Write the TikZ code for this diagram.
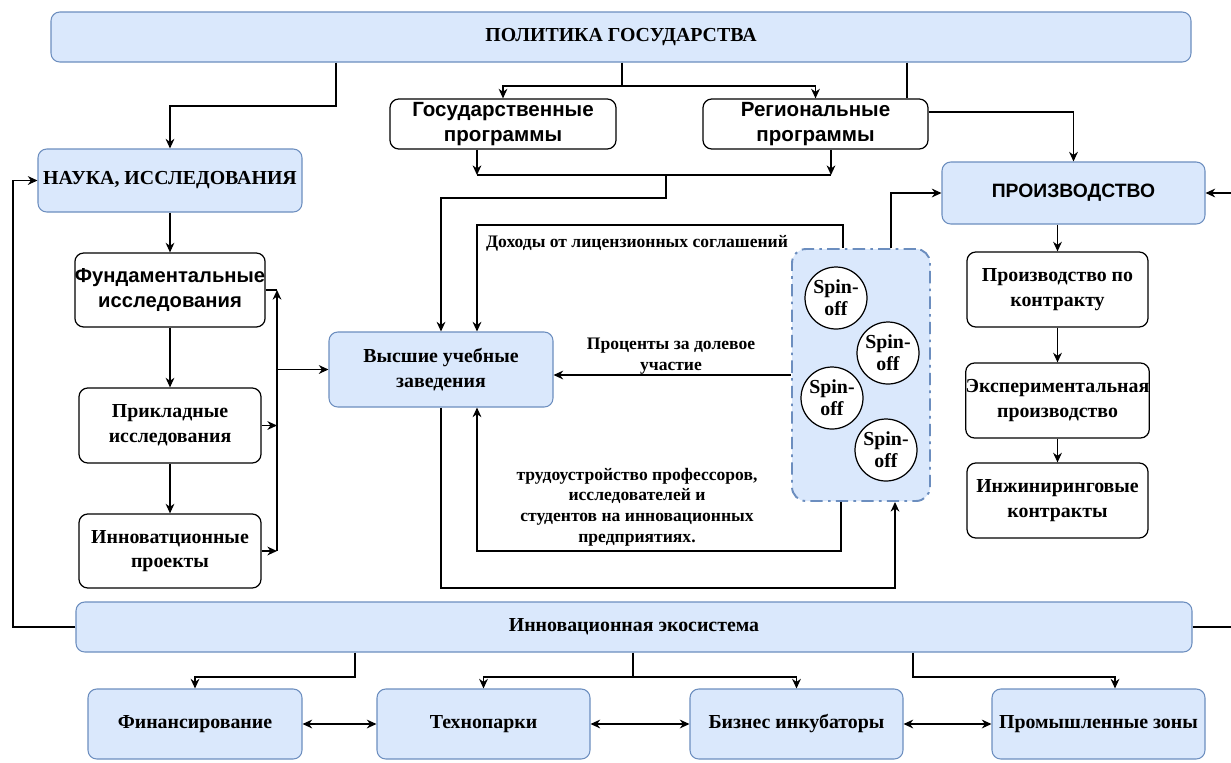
\documentclass[tikz,border=0pt]{standalone}
\usepackage{fontspec}
\setmainfont{Liberation Serif}
\newfontfamily\arialf{Liberation Sans}
\usetikzlibrary{arrows.meta,calc}
\definecolor{bfill}{HTML}{DAE8FC}
\definecolor{bdraw}{HTML}{6C8EBF}
\newcommand\mybox[7]{\node[#6, minimum width={(#4-#2)*0.02cm}, minimum height={(#5-#3)*0.02cm}] (#1) at ({(#2+#4)/2},{(#3+#5)/2}) {#7};}
\tikzset{
 base/.style={inner sep=0pt, align=center, font=\bfseries\fontsize{11.3}{14}\selectfont, text=black},
 bluebox/.style={base, draw=bdraw, fill=bfill, rounded corners=5pt, line width=0.6pt},
 whitebox/.style={base, draw=black, fill=white, rounded corners=5pt, line width=0.7pt},
 sansf/.style={font=\arialf\bfseries\fontsize{11.7}{14}\selectfont},
 conn/.style={line width=0.7pt},
 arr/.style={conn, -{Stealth[length=5.5pt,width=5pt]}},
 biarr/.style={conn, {Stealth[length=5.5pt,width=5pt]}-{Stealth[length=5.5pt,width=5pt]}},
 lbl/.style={align=center, inner sep=0pt, font=\bfseries\fontsize{10}{11.7}\selectfont},
 spinc/.style={circle, draw=black, fill=white, line width=0.7pt, minimum size=1.24cm, inner sep=0pt, align=center, font=\bfseries\fontsize{11.3}{12.4}\selectfont},
 cont/.style={draw=bdraw, fill=bfill, rounded corners=8pt, line width=1.1pt, dash pattern=on 7pt off 3pt on 1.5pt off 3pt}
}
\begin{document}
\begin{tikzpicture}[x=0.02cm,y=-0.02cm]
\useasboundingbox (0,0) rectangle (1231,762);
\clip (0,0) rectangle (1231,762);
\fill[white] (0,0) rectangle (1231,762);

% boxes
\mybox{pol}{51}{12}{1191}{62}{bluebox}{ПОЛИТИКА ГОСУДАРСТВА}
\mybox{gos}{390}{99}{616}{149}{whitebox,sansf}{Государственные\\программы}
\mybox{reg}{703}{99}{928}{149}{whitebox,sansf}{Региональные\\программы}
\mybox{nauka}{38}{149}{302}{212}{bluebox}{НАУКА, ИССЛЕДОВАНИЯ}
\mybox{fund}{79}{253}{261}{327}{whitebox,font=\arialf\bfseries\fontsize{11.5}{14}\selectfont}{Фундаментальные\\исследования}
\mybox{prikl}{79}{388}{261}{463}{whitebox}{Прикладные\\исследования}
\mybox{innov}{79}{514}{261}{588}{whitebox}{Инноватционные\\проекты}
\mybox{vuz}{329}{332}{553}{407}{bluebox}{Высшие учебные\\заведения}
\mybox{spin}{792}{249}{930}{501}{cont}{}
\node[spinc] (sp1) at (836,298) {Spin-\\off};
\node[spinc] (sp2) at (888,353) {Spin-\\off};
\node[spinc] (sp3) at (832,398) {Spin-\\off};
\node[spinc] (sp4) at (886,450) {Spin-\\off};
\mybox{proizv}{942}{162}{1205}{224}{bluebox,font=\arialf\bfseries\fontsize{11}{14}\selectfont}{ПРОИЗВОДСТВО}
\mybox{pk}{967}{252}{1148}{327}{whitebox}{Производство по\\контракту}
\mybox{exp}{967}{363}{1148}{438}{whitebox}{Экспериментальная\\производство}
\mybox{inzh}{967}{463}{1148}{538}{whitebox}{Инжиниринговые\\контракты}
\mybox{eco}{76}{602}{1192}{652}{bluebox}{Инновационная экосистема}
\mybox{fin}{88}{689}{302}{759}{bluebox}{Финансирование}
\mybox{tech}{377}{689}{590}{759}{bluebox}{Технопарки}
\mybox{biz}{690}{689}{903}{759}{bluebox}{Бизнес инкубаторы}
\mybox{prom}{992}{689}{1205}{759}{bluebox}{Промышленные зоны}

% top connectors
\coordinate (j1) at (336,106);
\draw[arr] (pol.south -| j1) -- (j1) -| (nauka.north);
\coordinate (j2) at (622,86);
\draw[arr] (pol.south -| j2) -- (j2) -| (gos.north);
\draw[arr] (j2) -| (reg.north);
\coordinate (j3) at (907,80);
\draw[conn] (pol.south -| j3) -- (reg.north -| j3);
\coordinate (j4) at (1074,112);
\draw[arr] (reg.east |- j4) -| (proizv.north);

\coordinate (b1) at (477,175);
\coordinate (b2) at (831,175);
\coordinate (b3) at (666,198);
\coordinate (v1) at (441,198);
\draw[arr] (gos.south -| b1) -- (b1);
\draw[arr] (reg.south -| b2) -- (b2);
\draw[conn] (b1) -- (b2);
\draw[arr] (b1 -| b3) -- (b3) -- (v1) -- (vuz.north -| v1);

% left
\coordinate (lf) at (13,400);
\draw[arr] (eco.west) -| (lf) |- (nauka.west);
\draw[arr] (nauka) -- (fund);
\draw[arr] (fund) -- (prikl);
\draw[arr] (prikl) -- (innov);
\coordinate (bus) at (277,400);
\draw[conn] (fund.east) -- (fund.east -| bus);
\draw[arr] (innov.east -| bus) -- (fund.east -| bus);
\draw[arr] (prikl.east) -- (prikl.east -| bus);
\draw[arr] (innov.east) -- (innov.east -| bus);
\draw[arr] (vuz.west -| bus) -- (vuz.west);

% center
\coordinate (d1) at (843,225);
\coordinate (d2) at (477,225);
\draw[arr] (spin.north -| d1) -- (d1) -- (d2) -- (vuz.north -| d2);
\node[lbl] (ldoh) at (637,243) {Доходы от лицензионных соглашений};
\coordinate (p) at (700,375);
\draw[arr] (spin.west |- p) -- (vuz.east |- p);
\node[lbl] (lproc) at (671,356) {Проценты за долевое\\участие};
\coordinate (t1) at (841,551);
\draw[arr] (spin.south -| t1) -- (t1) -| (vuz.south -| d2);
\node[lbl] (ltrud) at (637,507) {трудоустройство профессоров,\\исследователей и\\студентов на инновационных\\предприятиях.};
\coordinate (u1) at (895,588);
\draw[arr] (vuz.south -| v1) |- (u1) -- (spin.south -| u1);
\coordinate (s1) at (891,193);
\draw[arr] (spin.north -| s1) |- (proizv.west);
\coordinate (re) at (1250,400);
\draw[arr] (eco.east) -| (re) |- (proizv.east);

% right column
\draw[arr] (proizv.south -| pk.north) -- (pk.north);
\draw[arr] (pk) -- (exp);
\draw[arr] (exp) -- (inzh);

% bottom
\coordinate (e1) at (355,677);
\draw[arr] (eco.south -| e1) -- (e1) -| (fin.north);
\coordinate (e2) at (633,677);
\draw[arr] (eco.south -| e2) -- (e2) -| (tech.north);
\draw[arr] (e2) -| (biz.north);
\coordinate (e3) at (913,677);
\coordinate (e4) at (1115,677);
\draw[arr] (eco.south -| e3) -- (e3) -- (e4) -- (prom.north -| e4);
\draw[biarr] (fin) -- (tech);
\draw[biarr] (tech) -- (biz);
\draw[biarr] (biz) -- (prom);
\end{tikzpicture}
\end{document}
